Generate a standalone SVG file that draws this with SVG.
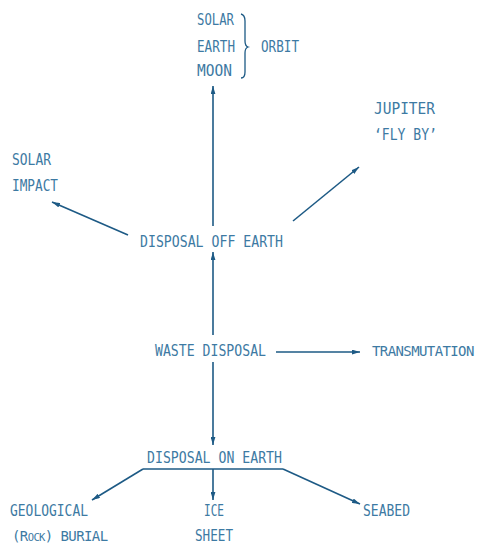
<svg xmlns="http://www.w3.org/2000/svg" width="478" height="545" viewBox="0 0 478 545">
<defs>
<marker id="ah" viewBox="0 0 10 6" refX="10" refY="3" markerWidth="8" markerHeight="5" markerUnits="userSpaceOnUse" orient="auto">
<path d="M0,0 L10,3 L0,6 Z" fill="#1d5a85"/>
</marker>
<style>
text{font-family:"DejaVu Sans Mono","Liberation Mono",monospace;font-size:15px;fill:#3d7aa3}
.n{font-size:14px;letter-spacing:-0.6px}
.s{font-size:10.5px}
.c{stroke:#1d5a85;stroke-width:1.6;fill:none}
.a{marker-end:url(#ah)}
</style>
</defs>
<rect width="478" height="545" fill="#ffffff"/>
<g id="connectors">
<line class="c a" x1="213" y1="226" x2="213" y2="86"/>
<line class="c a" x1="213" y1="335" x2="213" y2="252"/>
<line class="c a" x1="213" y1="362" x2="213" y2="445"/>
<line class="c a" x1="276" y1="352" x2="360" y2="352"/>
<line class="c a" x1="128" y1="235" x2="52" y2="202"/>
<line class="c a" x1="293" y1="221" x2="359" y2="167"/>
<line class="c" x1="143" y1="469" x2="283" y2="469"/>
<line class="c a" x1="143" y1="469" x2="92" y2="500"/>
<line class="c a" x1="283" y1="469" x2="360" y2="504"/>
<line class="c a" x1="213" y1="469" x2="213" y2="500"/>
<path class="c" d="M241,14 Q245,15 245,21 L245,41 Q245,46 248,47 Q245,48 245,53 L245,72 Q245,78 241,78" style="stroke-width:1.3"/>
</g>
<g id="orbit-list">
<text x="197" y="25" textLength="37" lengthAdjust="spacingAndGlyphs">SOLAR</text>
<text x="197" y="52" textLength="38" lengthAdjust="spacingAndGlyphs">EARTH</text>
<text x="197" y="76" textLength="35" lengthAdjust="spacingAndGlyphs">MOON</text>
<text x="261" y="52" textLength="38" lengthAdjust="spacingAndGlyphs">ORBIT</text>
</g>
<g id="solar-impact">
<text x="12" y="165" textLength="39" lengthAdjust="spacingAndGlyphs">SOLAR</text>
<text x="12" y="191" textLength="46" lengthAdjust="spacingAndGlyphs">IMPACT</text>
</g>
<g id="jupiter">
<text x="374" y="114" textLength="61" lengthAdjust="spacingAndGlyphs">JUPITER</text>
<text x="374" y="140" textLength="63" lengthAdjust="spacingAndGlyphs">‘FLY BY’</text>
</g>
<g id="disposal-off-earth">
<text x="140" y="247" textLength="143" lengthAdjust="spacingAndGlyphs">DISPOSAL OFF EARTH</text>
</g>
<g id="waste-disposal">
<text x="155" y="356" textLength="111" lengthAdjust="spacingAndGlyphs">WASTE DISPOSAL</text>
</g>
<g id="transmutation">
<text class="n" x="372" y="356">TRANSMUTATION</text>
</g>
<g id="disposal-on-earth">
<text x="147" y="463" textLength="135" lengthAdjust="spacingAndGlyphs">DISPOSAL ON EARTH</text>
</g>
<g id="geological">
<text x="10" y="516" textLength="78" lengthAdjust="spacingAndGlyphs">GEOLOGICAL</text>
<text class="n" x="12" y="541">(R<tspan class="s">OCK</tspan>) BURIAL</text>
</g>
<g id="ice-sheet">
<text x="204" y="516" textLength="20" lengthAdjust="spacingAndGlyphs">ICE</text>
<text x="195" y="541" textLength="38" lengthAdjust="spacingAndGlyphs">SHEET</text>
</g>
<g id="seabed">
<text x="363" y="516" textLength="47" lengthAdjust="spacingAndGlyphs">SEABED</text>
</g>
</svg>
